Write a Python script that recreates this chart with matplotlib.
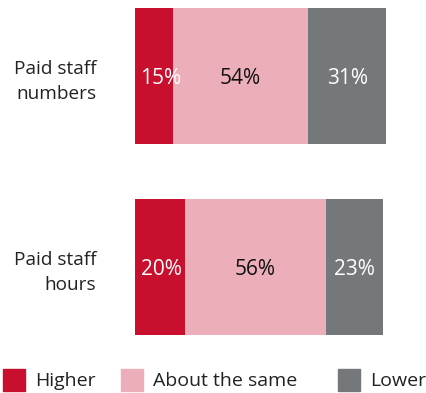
import matplotlib
matplotlib.use('Agg')
import matplotlib.pyplot as plt
from matplotlib.patches import Rectangle
from matplotlib import transforms

plt.rcParams['font.family'] = ['Open Sans', 'DejaVu Sans']

# survey categories and share of answers (%)
categories = ['Paid staff\nnumbers', 'Paid staff\nhours']
series = ['Higher', 'About the same', 'Lower']
higher = [15, 20]
same = [54, 56]
lower = [31, 23]

colors = ['#C8102E', '#ECAEB8', '#75787B']
text_colors = ['white', '#111111', 'white']

fig = plt.figure(figsize=(4.26, 3.93), dpi=100)
# axes spans the bars only
ax = fig.add_axes([135 / 426, 1 - 335 / 393, 251 / 426, 327 / 393])

values = [higher, same, lower]
ypos = list(range(len(categories)))
left = [0] * len(categories)
for k, (vals, col, tcol) in enumerate(zip(values, colors, text_colors)):
    ax.barh(ypos, vals, left=left, height=0.712, color=col, edgecolor='none')
    for i, v in enumerate(vals):
        if k == 0:
            # narrow first segment: label starts just inside the bar
            ax.annotate(f'{v}%', (left[i], i), xytext=(4, -2), textcoords='offset points',
                        ha='left', va='center', color=tcol, fontsize=15)
        else:
            ax.annotate(f'{v}%', (left[i] + v / 2, i), xytext=(0, -2),
                        textcoords='offset points', ha='center', va='center',
                        color=tcol, fontsize=15)
    left = [l + v for l, v in zip(left, vals)]

ax.set_xlim(0, sum(v[0] for v in values))
ax.set_ylim(1.356, -0.356)
ax.set_yticks(ypos)
ax.set_yticklabels(categories, fontsize=13.7, linespacing=1.5, color='#222222')
ax.tick_params(axis='y', length=0, pad=28)
ax.set_xticks([])
for s in ax.spines.values():
    s.set_visible(False)

# legend drawn in pixel positions along the bottom
px = transforms.Affine2D().scale(1 / 426, 1 / 393) + fig.transFigure
legend_x = [3, 121, 338]
for x, lab, col in zip(legend_x, series, colors):
    fig.patches.append(Rectangle((x, 2), 22, 22, color=col, transform=px))
    fig.text((x + 32) / 426, 12 / 393, lab, ha='left', va='center',
             fontsize=14, color='#222222')

fig.savefig('out.png', dpi=100)
